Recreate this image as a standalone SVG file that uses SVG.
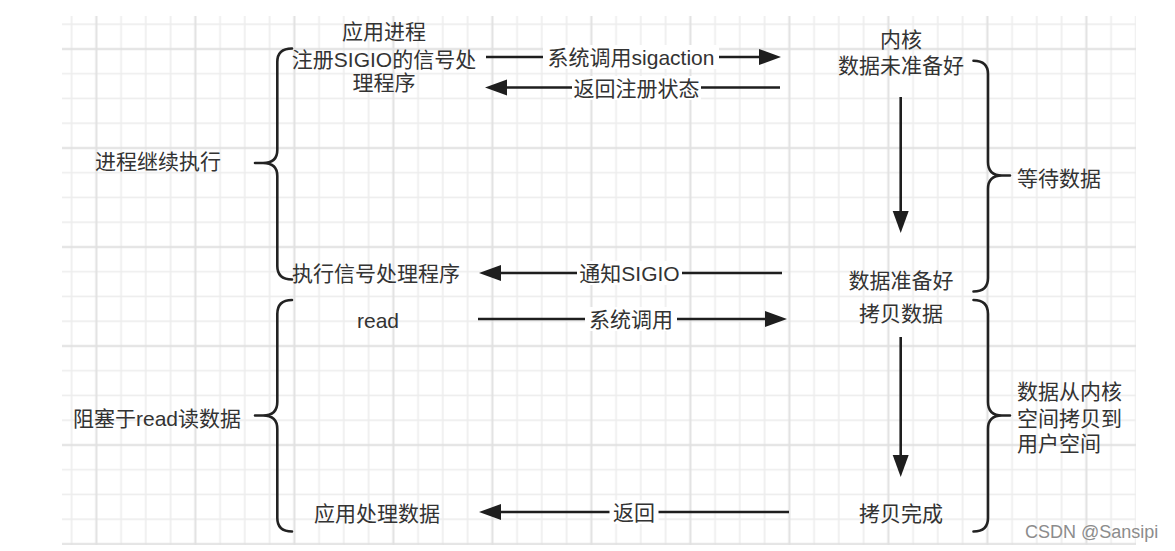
<svg xmlns="http://www.w3.org/2000/svg" width="1175" height="551" viewBox="0 0 1175 551">
<style>
  text { font-family: "Liberation Sans", "Noto Sans CJK SC", sans-serif; font-size: 21px; fill: #333333; }
  .c { text-anchor: middle; }
  .s { text-anchor: start; }
  .ln { stroke: #1e1e1e; stroke-width: 2.6; fill: none; }
  .br { stroke: #222222; stroke-width: 2.6; fill: none; stroke-linejoin: round; stroke-linecap: round; }
  .bg { fill: #ffffff; }
  .wm { font-size: 18px; fill: #8c8c8c; }
</style>
<defs>
  <pattern id="grid" patternUnits="userSpaceOnUse" x="59.6" y="12.25" width="99" height="99">
    <rect x="11.25" y="0" width="1.5" height="99" fill="#ececec"/>
    <rect x="60.75" y="0" width="1.5" height="99" fill="#ececec"/>
    <rect x="85.5" y="0" width="1.5" height="99" fill="#ececec"/>
    <rect x="0" y="11.25" width="99" height="1.5" fill="#ececec"/>
    <rect x="0" y="60.75" width="99" height="1.5" fill="#ececec"/>
    <rect x="0" y="85.5" width="99" height="1.5" fill="#ececec"/>
    <rect x="35.75" y="0" width="2" height="99" fill="#e0e0e0"/>
    <rect x="0" y="35.75" width="99" height="2" fill="#e0e0e0"/>
  </pattern>
  <marker id="ah" markerUnits="userSpaceOnUse" markerWidth="23" markerHeight="17" refX="1" refY="8" orient="auto">
    <path d="M0,0 L22,8 L0,16 Z" fill="#1e1e1e"/>
  </marker>
</defs>
<rect width="1175" height="551" fill="#ffffff"/>
<rect x="62" y="16" width="1074" height="529" fill="url(#grid)"/>

<g id="connectors">
  <line class="ln" x1="486" y1="57" x2="760" y2="57" marker-end="url(#ah)"/>
  <line class="ln" x1="780" y1="87.5" x2="506" y2="87.5" marker-end="url(#ah)"/>
  <line class="ln" x1="782" y1="273" x2="500" y2="273" marker-end="url(#ah)"/>
  <line class="ln" x1="478" y1="319" x2="766" y2="319" marker-end="url(#ah)"/>
  <line class="ln" x1="789" y1="512" x2="500" y2="512" marker-end="url(#ah)"/>
  <line class="ln" x1="900.7" y1="97" x2="900.7" y2="212" marker-end="url(#ah)"/>
  <line class="ln" x1="900.7" y1="337" x2="900.7" y2="456" marker-end="url(#ah)"/>
  <g id="edge-labels">
    <rect class="bg" x="543" y="45" width="176" height="24"/>
    <text class="c" x="631" y="65">系统调用sigaction</text>
    <rect class="bg" x="572" y="76" width="129" height="24"/>
    <text class="c" x="636.5" y="95.5">返回注册状态</text>
    <rect class="bg" x="577" y="261" width="105" height="24"/>
    <text class="c" x="629.5" y="281">通知SIGIO</text>
    <rect class="bg" x="585" y="307" width="92" height="24"/>
    <text class="c" x="631" y="327">系统调用</text>
    <rect class="bg" x="609.5" y="500" width="49" height="24"/>
    <text class="c" x="634" y="520">返回</text>
  </g>
</g>

<g id="brace-left-top"><path class="br" d="M292,48.5 Q277.3,48.5 277.3,62 V150 Q277.3,163 263,163 H255 H263 Q277.3,163 277.3,176 V266 Q277.3,279.5 292,279.5"/></g>
<g id="brace-left-bottom"><path class="br" d="M292,300 Q277.3,300 277.3,314 V402 Q277.3,415.5 263,415.5 H255 H263 Q277.3,415.5 277.3,429 V518 Q277.3,531.5 292,531.5"/></g>
<g id="brace-right-top"><path class="br" d="M973.5,60.7 Q988,60.7 988,74 V162 Q988,175.5 1002,175.5 H1010 H1002 Q988,175.5 988,189 V278 Q988,291.5 973.5,291.5"/></g>
<g id="brace-right-bottom"><path class="br" d="M973.5,300 Q988,300 988,314 V402 Q988,415.5 1002,415.5 H1010 H1002 Q988,415.5 988,429 V518 Q988,531.5 973.5,531.5"/></g>

<g id="node-app-register">
  <text class="c" x="384" y="38.5">应用进程</text>
  <text class="c" x="384" y="66.5">注册SIGIO的信号处</text>
  <text class="c" x="384" y="89.5">理程序</text>
</g>
<g id="node-kernel-notready">
  <text class="c" x="901" y="46.5">内核</text>
  <text class="c" x="901" y="72.5">数据未准备好</text>
</g>
<g id="node-wait"><text class="s" x="1017" y="185.5">等待数据</text></g>
<g id="node-continue"><text class="s" x="95" y="169">进程继续执行</text></g>
<g id="node-handler"><text class="s" x="292" y="281">执行信号处理程序</text></g>
<g id="node-read"><text class="c" x="378" y="328">read</text></g>
<g id="node-block"><text class="s" x="73" y="425.5">阻塞于read读数据</text></g>
<g id="node-app-process"><text class="s" x="314" y="520.5">应用处理数据</text></g>
<g id="node-data-ready"><text class="c" x="901" y="287.5">数据准备好</text></g>
<g id="node-copy"><text class="c" x="901" y="321">拷贝数据</text></g>
<g id="node-copy-desc">
  <text class="s" x="1017" y="399">数据从内核</text>
  <text class="s" x="1017" y="426">空间拷贝到</text>
  <text class="s" x="1017" y="451">用户空间</text>
</g>
<g id="node-copy-done"><text class="c" x="901" y="521">拷贝完成</text></g>
<g id="watermark"><text class="s wm" x="1025" y="538">CSDN @Sansipi</text></g>
</svg>
